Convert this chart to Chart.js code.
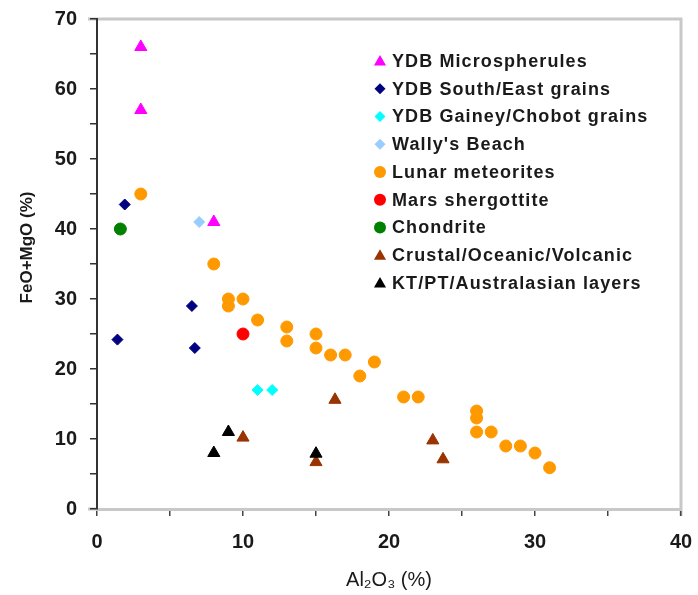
<!DOCTYPE html>
<html>
<head>
<meta charset="utf-8">
<title>FeO+MgO x Al2O3</title>
<script src="https://cdn.jsdelivr.net/npm/chart.js@4.4.0/dist/chart.umd.min.js"></script>
<style>
    body { margin: 0; background: #fff; }
    #wrap { width: 698px; height: 595px; position: relative; }
</style>
</head>
<body>
<div id="wrap"><canvas id="grafico"></canvas></div>
<script>
// séries, na ordem da legenda
const seriesNames = [
    'YDB Microspherules',
    'YDB South/East grains',
    'YDB Gainey/Chobot grains',
    "Wally's Beach",
    'Lunar meteorites',
    'Mars shergottite',
    'Chondrite',
    'Crustal/Oceanic/Volcanic',
    'KT/PT/Australasian layers'
];
const seriesColors = ['#ff00ff', '#000080', '#00ffff', '#99ccff', '#ff9900', '#ff0000', '#008000', '#993300', '#000000'];
const seriesShapes = ['triangle', 'rectRot', 'rectRot', 'rectRot', 'circle', 'circle', 'circle', 'triangle', 'triangle'];
const seriesSizes = [7, 5.5, 5.5, 5.5, 6, 6, 6, 7, 7];

// Al2O3 (%) e FeO+MgO (%) de cada série
const microX = [3, 3, 8];
const microY = [66, 57, 41];
const southX = [1.9, 6.5, 1.4, 6.7];
const southY = [43.5, 29, 24.2, 23];
const gaineyX = [11, 12];
const gaineyY = [17, 17];
const wallyX = [7];
const wallyY = [41];
const lunarX = [3, 8, 9, 9, 10, 11, 13, 13, 15, 15, 16, 17, 18, 19, 21, 22, 26, 26, 26, 27, 28, 29, 30, 31];
const lunarY = [45, 35, 30, 29, 30, 27, 26, 24, 25, 23, 22, 22, 19, 21, 16, 16, 14, 13, 11, 11, 9, 9, 8, 5.9];
const marsX = [10];
const marsY = [25];
const chondX = [1.6];
const chondY = [40];
const crustX = [10, 16.3, 23, 23.7, 15];
const crustY = [10.2, 15.6, 9.8, 7.1, 6.7];
const ktX = [8, 9, 15];
const ktY = [8, 11, 7.9];

const xTickLabels = [0, 10, 20, 30, 40];
const yTickLabels = [0, 10, 20, 30, 40, 50, 60, 70];

const seriesX = [microX, southX, gaineyX, wallyX, lunarX, marsX, chondX, crustX, ktX];
const seriesY = [microY, southY, gaineyY, wallyY, lunarY, marsY, chondY, crustY, ktY];

const fontFamily = '"Liberation Sans", Arial, sans-serif';

const datasets = seriesNames.map(function (name, i) {
    return {
        label: name,
        data: seriesX[i].map(function (x, j) { return { x: x, y: seriesY[i][j] }; }),
        pointStyle: seriesShapes[i],
        pointRadius: seriesSizes[i],
        pointBackgroundColor: seriesColors[i],
        pointBorderColor: seriesColors[i],
        pointBorderWidth: 1,
        order: seriesNames.length - i // séries posteriores por cima
    };
});

// moldura cinza (topo, direita e prolongamento do eixo x)
const moldura = {
    id: 'moldura',
    beforeDraw(chart) {
        const { ctx, chartArea } = chart;
        ctx.save();
        ctx.strokeStyle = '#c8c8c8';
        ctx.lineWidth = 3;
        ctx.beginPath();
        ctx.moveTo(chartArea.left - 9, chartArea.top);
        ctx.lineTo(chartArea.right, chartArea.top);
        ctx.lineTo(chartArea.right, chartArea.bottom + 7);
        ctx.moveTo(chartArea.left - 9, chartArea.bottom);
        ctx.lineTo(chartArea.left, chartArea.bottom);
        ctx.stroke();
        ctx.restore();
    }
};

// legenda dentro da área do gráfico
const legendaInterna = {
    id: 'legendaInterna',
    afterDraw(chart) {
        const ctx = chart.ctx;
        ctx.save();
        ctx.font = 'bold 18px ' + fontFamily;
        ctx.letterSpacing = '1.1px';
        ctx.textBaseline = 'middle';
        ctx.textAlign = 'left';
        chart.data.datasets.forEach(function (ds, i) {
            const y = 61 + i * 27.75;
            ctx.fillStyle = ds.pointBackgroundColor;
            Chart.helpers.drawPoint(ctx, {
                pointStyle: ds.pointStyle,
                radius: ds.pointRadius,
                rotation: 0,
                borderWidth: 0
            }, 380, ds.pointStyle === 'triangle' ? y + 1 : y);
            ctx.fillStyle = '#1a1a1a';
            ctx.fillText(ds.label, 392, y + 1);
        });
        ctx.restore();
    }
};

const ctx = document.getElementById('grafico').getContext('2d');
new Chart(ctx, {
    type: 'scatter',
    data: { datasets: datasets },
    plugins: [moldura, legendaInterna],
    options: {
        responsive: true,
        maintainAspectRatio: false,
        animation: false,
        layout: { padding: { top: 19, right: 17, left: 0, bottom: 0 } },
        plugins: {
            legend: { display: false },
            tooltip: { enabled: false }
        },
        scales: {
            x: {
                type: 'linear',
                min: 0,
                max: 40,
                afterFit: function (scale) {
                    scale.height = 86;
                    scale.paddingLeft = 0;
                    scale.paddingRight = 0;
                },
                ticks: {
                    stepSize: 5,
                    autoSkip: false,
                    maxRotation: 0,
                    padding: 14,
                    color: '#1a1a1a',
                    font: { family: fontFamily, size: 20, weight: 'bold' },
                    callback: function (value) { return xTickLabels.includes(value) ? value : ''; }
                },
                grid: { drawOnChartArea: false, tickLength: 7, color: '#444', lineWidth: 1.5 },
                border: { display: true, color: '#c8c8c8', width: 3 },
                title: {
                    display: true,
                    text: 'Al₂O₃ (%)',
                    color: '#1a1a1a',
                    font: { family: fontFamily, size: 20 },
                    padding: { top: 0, bottom: 3 }
                }
            },
            y: {
                type: 'linear',
                min: 0,
                max: 70,
                afterFit: function (scale) {
                    scale.width = 97;
                    scale.paddingTop = 0;
                    scale.paddingBottom = 0;
                },
                ticks: {
                    stepSize: 5,
                    autoSkip: false,
                    padding: 13,
                    color: '#1a1a1a',
                    font: { family: fontFamily, size: 20, weight: 'bold' },
                    callback: function (value) { return yTickLabels.includes(value) ? value : ''; }
                },
                grid: { drawOnChartArea: false, tickLength: 7, color: '#333', lineWidth: 1.5 },
                border: { display: true, color: '#333', width: 2 },
                title: {
                    display: true,
                    text: '       FeO+MgO (%)',
                    color: '#1a1a1a',
                    font: { family: fontFamily, size: 17, weight: 'bold' },
                    padding: { top: 17, bottom: 0 }
                }
            }
        }
    }
});
</script>
</body>
</html>
